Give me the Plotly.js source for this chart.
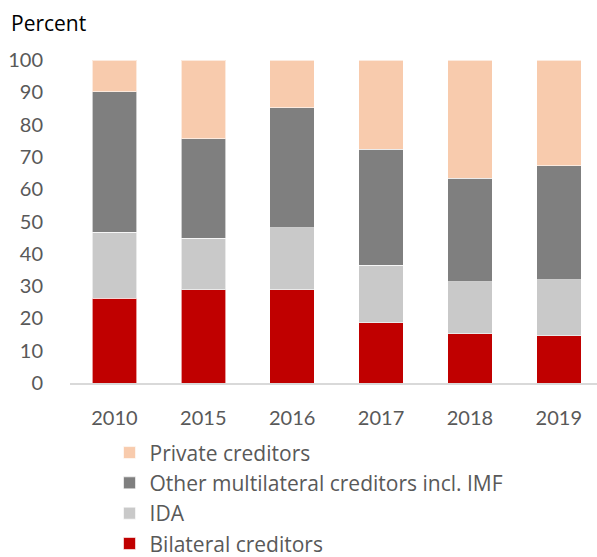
<!DOCTYPE html>
<html>
<head>
<meta charset="utf-8">
<script src="https://cdn.plot.ly/plotly-3.0.1.min.js"></script>
<style>html,body{margin:0;padding:0;background:#fff;}#chart{width:597px;height:557px;}</style>
</head>
<body>
<div id="chart"></div>
<script>
var years = ["2010", "2015", "2016", "2017", "2018", "2019"];
var bilateral = [26.2, 28.9, 28.9, 18.6, 15.2, 14.7];
var ida = [20.5, 15.9, 19.1, 17.9, 16.1, 17.3];
var otherMultilateral = [43.5, 30.8, 37.2, 35.8, 32.1, 35.3];
var privateCreditors = [9.8, 24.4, 14.8, 27.7, 36.6, 32.7];
var seriesNames = ["Bilateral creditors", "IDA", "Other multilateral creditors incl. IMF", "Private creditors"];
var seriesColors = ["#C00000", "#C9C9C9", "#7F7F7F", "#F8CBAD"];
var seriesValues = [bilateral, ida, otherMultilateral, privateCreditors];

var FONT = "Lato, 'Open Sans', sans-serif";
var LFONT = "'Open Sans', Lato, sans-serif";
var traces = seriesValues.map(function (vals, i) {
  return {
    type: "bar",
    name: seriesNames[i],
    x: years,
    y: vals,
    marker: {color: seriesColors[i], line: {color: "rgba(255,255,255,0.6)", width: 1}},
    hoverinfo: "x+y+name"
  };
});

var layout = {
  width: 597,
  height: 557,
  barmode: "stack",
  bargap: 0.5,
  paper_bgcolor: "#ffffff",
  plot_bgcolor: "#ffffff",
  margin: {l: 70, r: 0, t: 60, b: 174, autoexpand: false},
  font: {family: FONT, size: 20, color: "#595959"},
  xaxis: {
    type: "category",
    range: [-0.5, 5.43],
    showgrid: false,
    showline: true,
    linecolor: "#D9D9D9",
    linewidth: 2,
    ticks: "outside",
    ticklen: 16,
    tickcolor: "rgba(0,0,0,0)",
    tickfont: {family: FONT, size: 20, color: "#595959"},
    zeroline: false
  },
  yaxis: {
    range: [0, 100],
    dtick: 10,
    showgrid: false,
    showline: false,
    zeroline: false,
    ticks: "outside",
    ticklen: 22,
    tickcolor: "rgba(0,0,0,0)",
    tickfont: {family: FONT, size: 20, color: "#595959"}
  },
  showlegend: true,
  legend: {
    orientation: "v",
    traceorder: "reversed",
    x: 0.075,
    xanchor: "left",
    y: -0.153,
    yanchor: "top",
    font: {family: LFONT, size: 21, color: "#595959"},
    tracegroupgap: 0,
    itemwidth: 30,
    bgcolor: "rgba(0,0,0,0)"
  },
  annotations: [{
    text: "Percent",
    xref: "paper", yref: "paper",
    x: -0.115, y: 1.115,
    xanchor: "left", yanchor: "middle",
    showarrow: false,
    font: {family: LFONT, size: 21, color: "#000000"}
  }]
};

Plotly.newPlot("chart", traces, layout, {displayModeBar: false, staticPlot: true});
</script>
</body>
</html>
